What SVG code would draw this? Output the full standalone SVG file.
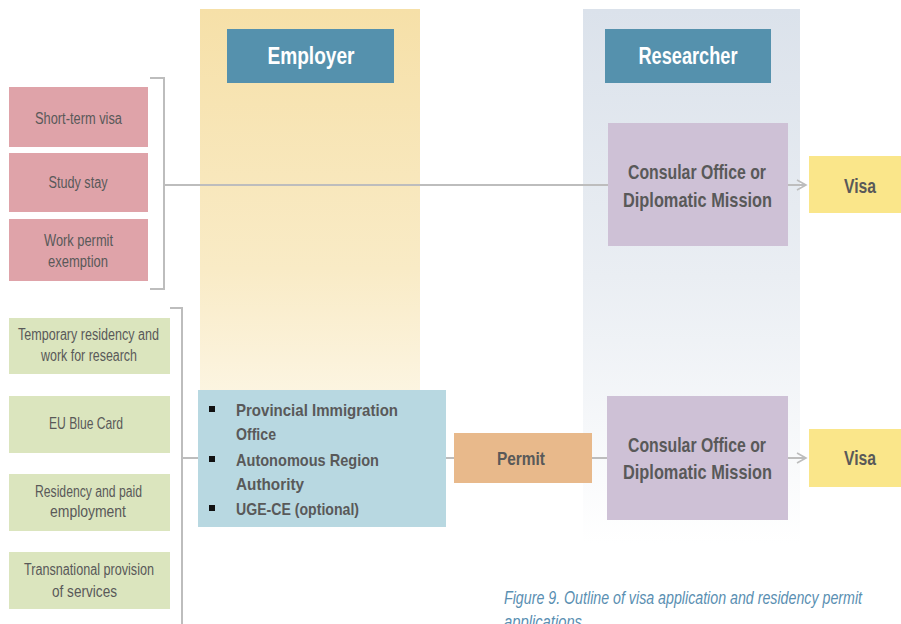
<svg xmlns="http://www.w3.org/2000/svg" width="901" height="624" viewBox="0 0 901 624">
<defs>
<linearGradient id="gEmp" x1="0" y1="0" x2="0" y2="1">
<stop offset="0" stop-color="#f6e0a8"/>
<stop offset="0.5" stop-color="#f9ebc6"/>
<stop offset="1" stop-color="#ffffff"/>
</linearGradient>
<linearGradient id="gRes" x1="0" y1="0" x2="0" y2="1">
<stop offset="0" stop-color="#dbe2eb"/>
<stop offset="0.5" stop-color="#eaeef3"/>
<stop offset="1" stop-color="#ffffff"/>
</linearGradient>
<marker id="arr" markerWidth="12" markerHeight="12" refX="10" refY="6" orient="auto" markerUnits="userSpaceOnUse">
<path d="M1,1 L10,6 L1,11" fill="none" stroke="#bdbdbd" stroke-width="1.6"/>
</marker>
<style>
.t{font-family:"Liberation Sans",Arial,sans-serif;fill:#595959;text-anchor:middle}
.s{font-size:16px}
.b{font-weight:bold}
.hdr{font-family:"Liberation Sans",Arial,sans-serif;font-weight:bold;font-size:24px;fill:#ffffff;text-anchor:middle}
.ln{stroke:#bdbdbd;stroke-width:2;fill:none}
.pink{fill:#dfa3a9}
.green{fill:#dbe5be}
.purple{fill:#cec1d6}
.yellow{fill:#fae68a}
</style>
</defs>
<rect x="200" y="9" width="220" height="520" fill="url(#gEmp)"/>
<rect x="583" y="9" width="217" height="535" fill="url(#gRes)"/>

<g id="connectors">
<path class="ln" d="M150,78 H164 V289 H150"/>
<path class="ln" d="M164,185 H608"/>
<path class="ln" d="M170,308 H182 V624"/>
<path class="ln" d="M182,458 H198"/>
<path class="ln" d="M446,458 H454"/>
<path class="ln" d="M592,458 H607"/>
<path class="ln" d="M788,185 H806" marker-end="url(#arr)"/>
<path class="ln" d="M788,458 H806" marker-end="url(#arr)"/>
</g>

<g id="employer">
<rect x="227" y="29" width="167" height="54" fill="#5591ad"/>
<text class="hdr" x="311" y="64" textLength="87" lengthAdjust="spacingAndGlyphs">Employer</text>
</g>
<g id="researcher">
<rect x="605" y="29" width="166" height="54" fill="#5591ad"/>
<text class="hdr" x="688" y="64" textLength="99" lengthAdjust="spacingAndGlyphs">Researcher</text>
</g>

<g id="short-term-visa">
<rect class="pink" x="9" y="87" width="139" height="60"/>
<text class="t s" x="78.5" y="124" textLength="87" lengthAdjust="spacingAndGlyphs">Short-term visa</text>
</g>
<g id="study-stay">
<rect class="pink" x="9" y="153" width="139" height="59"/>
<text class="t s" x="78" y="188" textLength="59" lengthAdjust="spacingAndGlyphs">Study stay</text>
</g>
<g id="work-permit-exemption">
<rect class="pink" x="9" y="219" width="139" height="62"/>
<text class="t s" x="78.5" y="246" textLength="69" lengthAdjust="spacingAndGlyphs">Work permit</text>
<text class="t s" x="78" y="267" textLength="60" lengthAdjust="spacingAndGlyphs">exemption</text>
</g>

<g id="temporary-residency">
<rect class="green" x="9" y="318" width="161" height="56"/>
<text class="t s" x="88.5" y="340" textLength="141" lengthAdjust="spacingAndGlyphs">Temporary residency and</text>
<text class="t s" x="89" y="361" textLength="96" lengthAdjust="spacingAndGlyphs">work for research</text>
</g>
<g id="eu-blue-card">
<rect class="green" x="9" y="396" width="161" height="57"/>
<text class="t s" x="86" y="429" textLength="74" lengthAdjust="spacingAndGlyphs">EU Blue Card</text>
</g>
<g id="residency-paid-employment">
<rect class="green" x="9" y="474" width="161" height="57"/>
<text class="t s" x="88.5" y="497" textLength="107" lengthAdjust="spacingAndGlyphs">Residency and paid</text>
<text class="t s" x="88" y="517" textLength="76" lengthAdjust="spacingAndGlyphs">employment</text>
</g>
<g id="transnational-provision">
<rect class="green" x="9" y="552" width="161" height="57"/>
<text class="t s" x="89" y="575" textLength="130" lengthAdjust="spacingAndGlyphs">Transnational provision</text>
<text class="t s" x="84.5" y="597" textLength="65" lengthAdjust="spacingAndGlyphs">of services</text>
</g>

<g id="authorities">
<rect x="198" y="390" width="248" height="137" fill="#b8d8e1"/>
<rect x="209" y="406" width="6" height="6" fill="#111"/>
<rect x="209" y="456" width="6" height="6" fill="#111"/>
<rect x="209" y="505" width="6" height="6" fill="#111"/>
<g class="t b" style="font-size:17px;text-anchor:start">
<text x="236" y="416" textLength="162" lengthAdjust="spacingAndGlyphs">Provincial Immigration</text>
<text x="236" y="440" textLength="40" lengthAdjust="spacingAndGlyphs">Office</text>
<text x="236" y="466" textLength="143" lengthAdjust="spacingAndGlyphs">Autonomous Region</text>
<text x="236" y="490" textLength="68" lengthAdjust="spacingAndGlyphs">Authority</text>
<text x="236" y="515" textLength="123" lengthAdjust="spacingAndGlyphs">UGE-CE (optional)</text>
</g>
</g>

<g id="permit">
<rect x="454" y="433" width="138" height="50" fill="#e8b98b"/>
<text class="t b" x="521" y="465" style="font-size:18px" textLength="48" lengthAdjust="spacingAndGlyphs">Permit</text>
</g>

<g id="consular-1">
<rect class="purple" x="608" y="123" width="180" height="123"/>
<text class="t b" x="697" y="179" style="font-size:21px" textLength="138" lengthAdjust="spacingAndGlyphs">Consular Office or</text>
<text class="t b" x="697.5" y="207" style="font-size:21px" textLength="149" lengthAdjust="spacingAndGlyphs">Diplomatic Mission</text>
</g>
<g id="consular-2">
<rect class="purple" x="607" y="396" width="181" height="124"/>
<text class="t b" x="697" y="452" style="font-size:21px" textLength="138" lengthAdjust="spacingAndGlyphs">Consular Office or</text>
<text class="t b" x="697.5" y="479" style="font-size:21px" textLength="149" lengthAdjust="spacingAndGlyphs">Diplomatic Mission</text>
</g>

<g id="visa-1">
<rect class="yellow" x="809" y="156" width="92" height="57"/>
<text class="t b" x="860" y="193" style="font-size:20px" textLength="32" lengthAdjust="spacingAndGlyphs">Visa</text>
</g>
<g id="visa-2">
<rect class="yellow" x="809" y="429" width="92" height="58"/>
<text class="t b" x="860" y="465" style="font-size:20px" textLength="32" lengthAdjust="spacingAndGlyphs">Visa</text>
</g>

<g id="caption" style="font-family:'Liberation Sans',Arial,sans-serif;font-style:italic;font-size:18px;fill:#5a8fb2">
<text x="504" y="604" textLength="358" lengthAdjust="spacingAndGlyphs">Figure 9. Outline of visa application and residency permit</text>
<text x="504" y="628" textLength="78" lengthAdjust="spacingAndGlyphs">applications</text>
</g>
</svg>
